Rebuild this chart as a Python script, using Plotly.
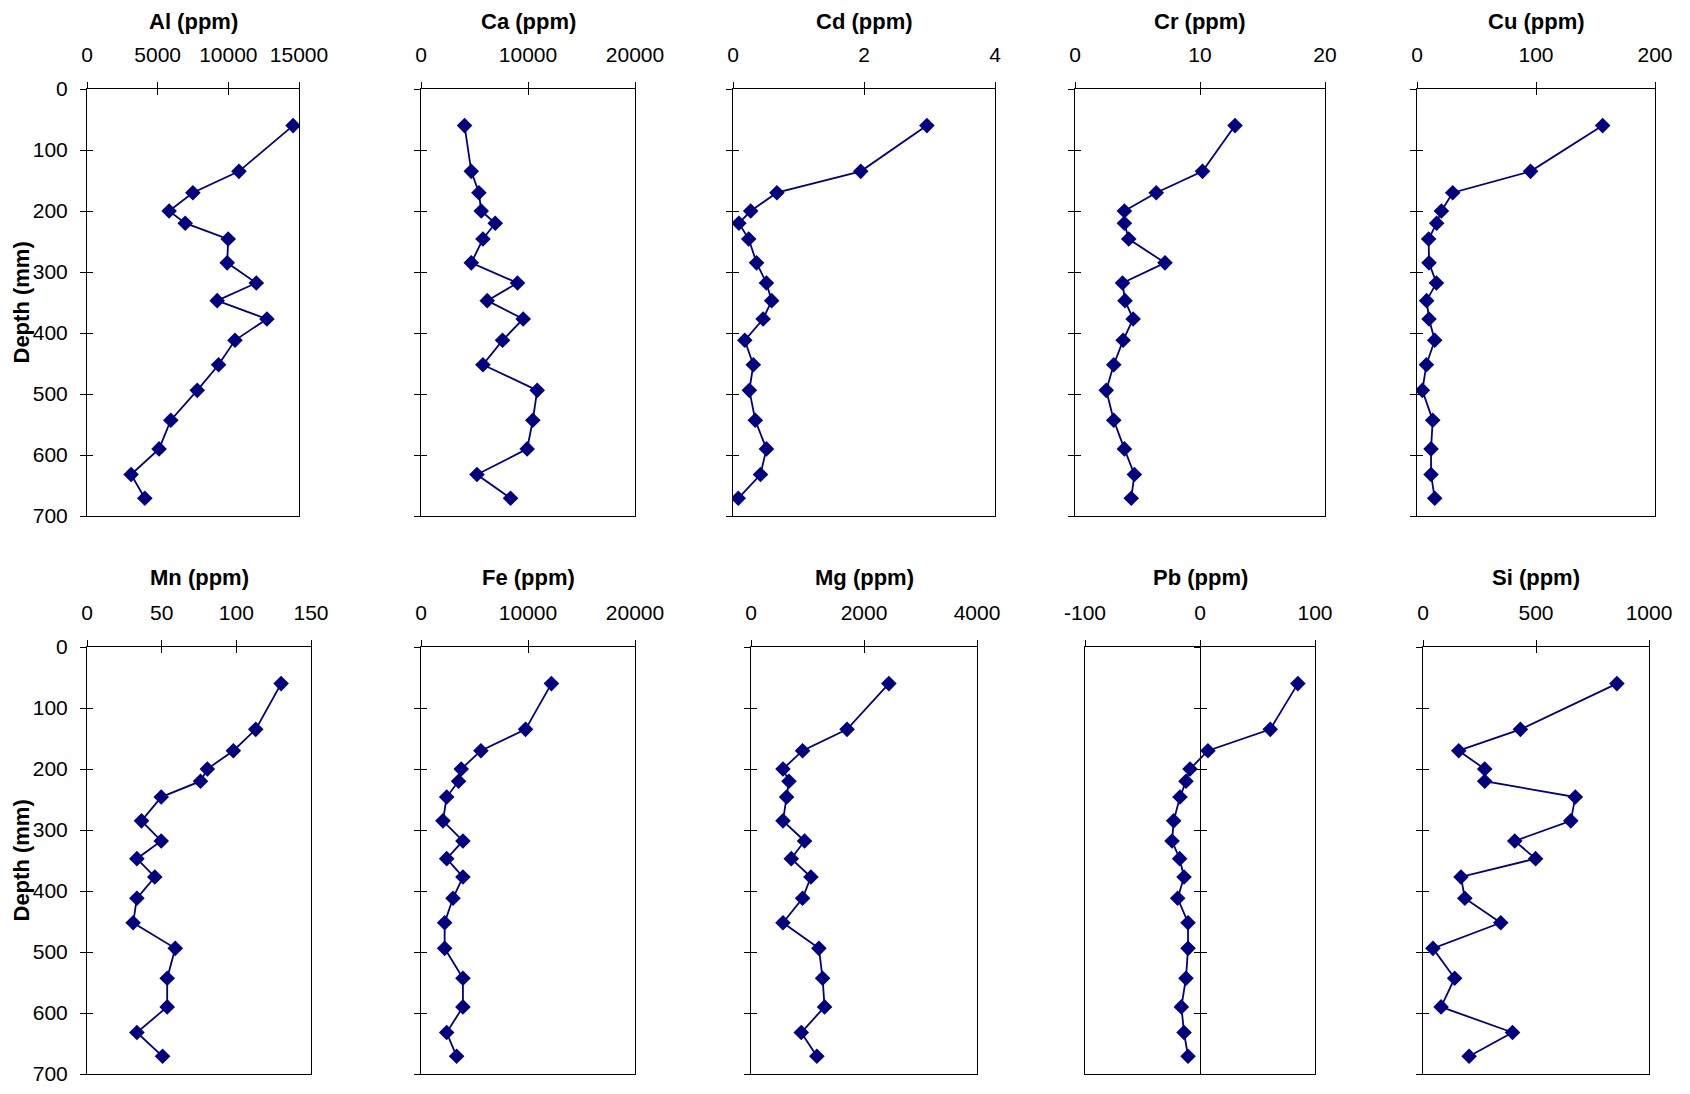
import plotly.graph_objects as go

# depth of each sample (mm)
depth = [60, 135, 170, 200, 220, 246, 285, 318, 347, 377, 412, 452, 494, 543, 590, 632, 671]

al = [14580, 10750, 7490, 5810, 6950, 9990, 9920, 11980, 9210, 12730, 10470, 9310, 7800, 5930, 5100, 3120, 4090]
ca = [4070, 4700, 5410, 5630, 6940, 5790, 4700, 9020, 6190, 9550, 7620, 5790, 10860, 10450, 9920, 5230, 8370]
cd = [2.96, 1.95, 0.67, 0.27, 0.09, 0.24, 0.36, 0.51, 0.59, 0.46, 0.18, 0.31, 0.25, 0.34, 0.51, 0.42, 0.08]
cr = [12.8, 10.2, 6.5, 3.95, 3.95, 4.3, 7.2, 3.8, 4.0, 4.65, 3.85, 3.1, 2.5, 3.1, 3.95, 4.75, 4.5]
cu = [156, 95.4, 30, 20.5, 16.5, 9.8, 10.1, 16.3, 8.1, 10.1, 14.9, 7.9, 4.5, 13.2, 11.8, 11.8, 14.9]
mn = [130, 113, 98, 80.6, 76, 49.7, 36.5, 49.7, 33.4, 45.4, 33.4, 30.9, 59.1, 53.7, 53.7, 33.4, 50.6]
fe = [12190, 9770, 5600, 3760, 3510, 2400, 2050, 3920, 2400, 3920, 2990, 2210, 2210, 3920, 3920, 2400, 3330]
mg = [2440, 1700, 913, 566, 672, 630, 566, 948, 713, 1060, 913, 566, 1202, 1267, 1302, 890, 1166]
pb = [85.1, 61.1, 6.9, -8.7, -12.2, -17.4, -22.9, -24.3, -17.7, -13.9, -19.4, -10.4, -10.4, -12.2, -16.2, -13.9, -10.4]
si = [858, 431, 158, 273, 273, 674, 654, 406, 498, 168, 185, 344, 44, 140, 80, 396, 204]

titles = ["Al (ppm)", "Ca (ppm)", "Cd (ppm)", "Cr (ppm)", "Cu (ppm)",
          "Mn (ppm)", "Fe (ppm)", "Mg (ppm)", "Pb (ppm)", "Si (ppm)"]
series = [al, ca, cd, cr, cu, mn, fe, mg, pb, si]
x_ranges = [(0, 15000), (0, 20000), (0, 4), (0, 20), (0, 200),
            (0, 150), (0, 20000), (0, 4000), (-100, 100), (0, 1000)]
x_steps = [5000, 10000, 2, 10, 100, 50, 10000, 2000, 100, 500]
depth_ticks = [0, 100, 200, 300, 400, 500, 600, 700]

W, H = 1690, 1094
OFF = 8  # page body margin shifts the figure by this much
COLOR = "#000080"
FONT = "Liberation Sans, Arial, sans-serif"

# plot area boxes in window pixels: (left, right, top, bottom)
boxes = [
    (87, 299, 89, 516), (421, 635, 89, 516), (733, 995, 89, 516),
    (1075, 1325, 89, 516), (1417, 1655, 89, 516),
    (87, 311, 647, 1074), (421, 635, 647, 1074), (751, 977, 647, 1074),
    (1085, 1315, 647, 1074), (1423, 1649, 647, 1074),
]
title_y = [21, 577]


def px(x):
    return (x - OFF) / W


def py(y):
    return 1 - (y - OFF) / H


fig = go.Figure()
layout = dict(
    width=W, height=H, template="none",
    margin=dict(l=0, r=0, t=0, b=0, autoexpand=False),
    paper_bgcolor="white", plot_bgcolor="white", showlegend=False,
    font=dict(family=FONT, size=21, color="black"),
)
annotations = []

common = dict(showgrid=False, zeroline=False, fixedrange=True, automargin=False,
              tickcolor="black", ticklen=6, tickwidth=1)

for i, (name, vals) in enumerate(zip(titles, series)):
    k = i + 1
    left, right, top, bottom = boxes[i]
    xdom = [px(left), px(right)]
    ydom = [py(bottom), py(top)]
    lo, hi = x_ranges[i]
    xticks = list(range(lo, hi + 1, x_steps[i]))
    sfx = "" if k == 1 else str(k)

    fig.add_trace(go.Scatter(
        x=vals, y=depth, xaxis="x" + sfx, yaxis="y" + sfx,
        mode="lines+markers",
        line=dict(color=COLOR, width=1.8),
        marker=dict(symbol="diamond", size=12, color=COLOR),
    ))

    first_col = i % 5 == 0
    zero_axis = lo < 0  # Pb: depth axis crosses at zero

    layout["xaxis" + sfx] = dict(
        domain=xdom, anchor="y" + sfx, side="top", range=[lo, hi],
        tickvals=xticks, ticktext=[str(v) for v in xticks], ticks="outside",
        showline=True, linecolor="black", linewidth=1, mirror=True,
        ticklabelstandoff=12, tickfont=dict(size=21), **common,
    )
    layout["yaxis" + sfx] = dict(
        domain=ydom, anchor="x" + sfx, range=[700, 0],
        tickvals=depth_ticks, ticks="" if zero_axis else "outside",
        showticklabels=first_col, ticklabelstandoff=8,
        showline=True, linecolor="black", linewidth=1, mirror=True,
        tickfont=dict(size=21), **common,
    )

    # inner half of the crossing ticks, on overlay axes
    layout["xaxis" + str(k + 10)] = dict(
        domain=xdom, anchor="y" + sfx, overlaying="x" + sfx, side="top",
        range=[lo, hi], tickvals=xticks, ticks="inside",
        showticklabels=False, showline=False, **common,
    )
    fig.add_trace(go.Scatter(x=[], y=[], xaxis="x" + str(k + 10),
                             yaxis="y" + sfx, hoverinfo="skip"))
    if zero_axis:
        pos = xdom[0] + (0 - lo) / (hi - lo) * (xdom[1] - xdom[0])
        for j, side_ticks in ((10, "outside"), (20, "inside")):
            layout["yaxis" + str(k + j)] = dict(
                domain=ydom, anchor="free", position=pos,
                overlaying="y" + sfx, range=[700, 0], tickvals=depth_ticks,
                ticks=side_ticks, showticklabels=False, showline=True,
                linecolor="black", linewidth=1, **common,
            )
            fig.add_trace(go.Scatter(x=[], y=[], xaxis="x" + sfx,
                                     yaxis="y" + str(k + j), hoverinfo="skip"))
    else:
        layout["yaxis" + str(k + 10)] = dict(
            domain=ydom, anchor="x" + sfx, overlaying="y" + sfx,
            range=[700, 0], tickvals=depth_ticks, ticks="inside",
            showticklabels=False, showline=False, **common,
        )
        fig.add_trace(go.Scatter(x=[], y=[], xaxis="x" + sfx,
                                 yaxis="y" + str(k + 10), hoverinfo="skip"))

    annotations.append(dict(
        text="<b>" + name + "</b>", xref="paper", yref="paper",
        x=(xdom[0] + xdom[1]) / 2, y=py(title_y[i // 5]),
        xanchor="center", yanchor="middle", showarrow=False,
        font=dict(size=22, family=FONT),
    ))
    if first_col:
        annotations.append(dict(
            text="<b>Depth (mm)</b>", xref="paper", yref="paper",
            x=px(21), y=(ydom[0] + ydom[1]) / 2, textangle=-90,
            xanchor="center", yanchor="middle", showarrow=False,
            font=dict(size=22, family=FONT),
        ))

layout["annotations"] = annotations
fig.update_layout(**layout)
fig.write_html("out.html")
